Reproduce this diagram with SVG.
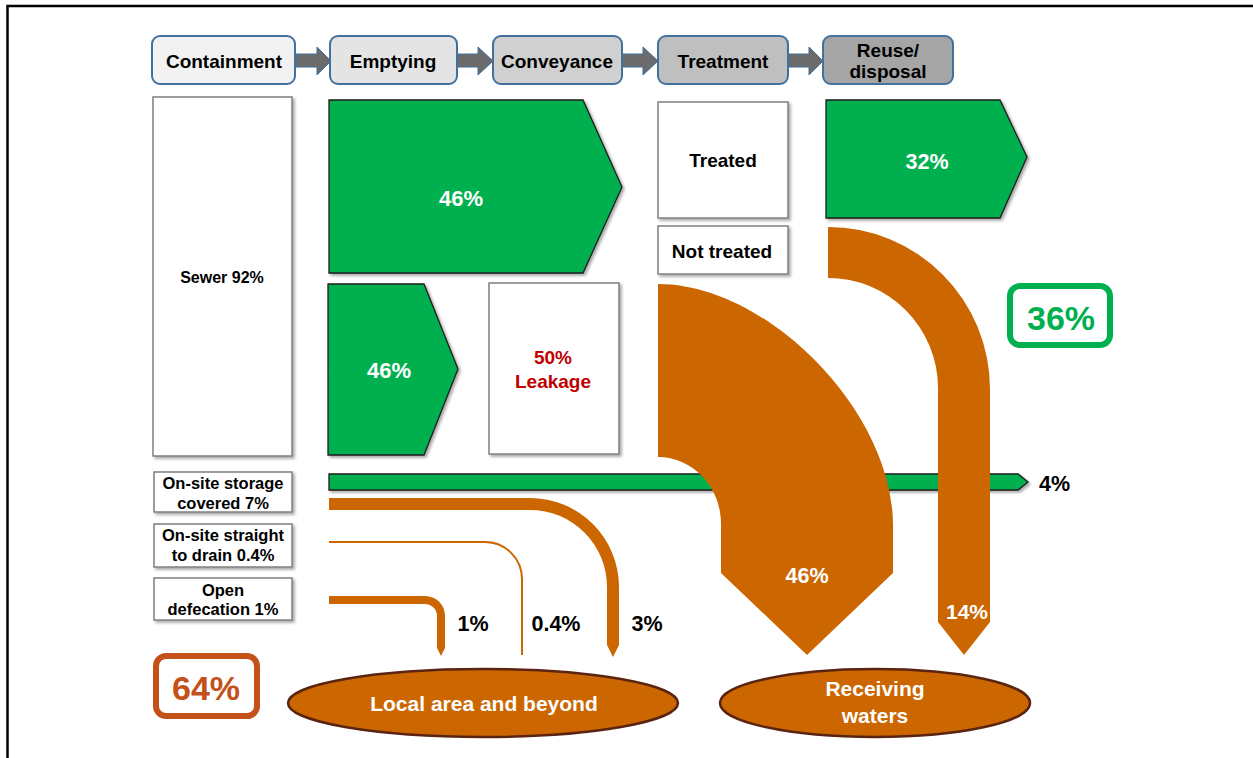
<svg xmlns="http://www.w3.org/2000/svg" width="1253" height="758" viewBox="0 0 1253 758">
<defs>
<style>
text{font-family:"Liberation Sans",Arial,sans-serif;font-weight:bold;text-anchor:middle}
.hdr{stroke:#41719C;stroke-width:2}
.ht{font-size:19px;fill:#000}
.harrow{fill:#6B6B6B;stroke:#41719C;stroke-width:1}
.wbox{fill:#fff;stroke:#7F7F7F;stroke-width:1.5}
.gr{fill:#00B050;stroke:#1E1E1E;stroke-width:1.3}
.or{fill:#CC6600}
.bt{fill:#000}
.wt{fill:#fff}
.ell{fill:#CC6600;stroke:#5A2410;stroke-width:2.5}
</style>
<filter id="sh" x="-10%" y="-10%" width="130%" height="130%">
<feDropShadow dx="2" dy="2" stdDeviation="1.5" flood-color="#000" flood-opacity="0.35"/>
</filter>
</defs>
<rect width="1253" height="758" fill="#fff"/>
<path d="M7.5,758 V6 H1253" fill="none" stroke="#000" stroke-width="2.5"/>

<g id="connectors">
<polygon class="harrow" points="296,54 317,54 317,47 331,61 317,75 317,67 296,67"/>
<polygon class="harrow" points="457,54 478,54 478,47 493,61 478,75 478,67 457,67"/>
<polygon class="harrow" points="622,54 643,54 643,47 658,61 643,75 643,67 622,67"/>
<polygon class="harrow" points="788,54 809,54 809,47 823,61 809,75 809,67 788,67"/>
<polygon class="gr" filter="url(#sh)" points="329,474 1018,474 1028,482 1018,490 329,490"/>
<path class="or" d="M658,284 C768,284 893,412 893,525 L893,573 L807,655 L721,573 L721,525 A63,67 0 0 0 658,457 Z"/>
<path class="or" d="M828,227 A162,162 0 0 1 990,389 L990,622 L964,655 L938,622 L938,388 A110,110 0 0 0 828,278 Z"/>
<path class="or" d="M329,498 L530,498 A89,89 0 0 1 619,587 L619,645 L613,657 L607,645 L607,587 A77,77 0 0 0 530,510 L329,510 Z"/>
<path d="M329,542 L485,542 A37,37 0 0 1 522,579 L522,655" fill="none" stroke="#CC6600" stroke-width="2"/>
<path class="or" d="M329,596 L425,596 A20,20 0 0 1 445,616 L445,648 L441,656 L437,648 L437,616 A12,12 0 0 0 425,604 L329,604 Z"/>
</g>

<g id="containment"><rect class="hdr" x="152" y="36" width="143" height="48" rx="8" fill="#F2F2F2"/><text class="ht" x="224" y="67.5">Containment</text></g>
<g id="emptying"><rect class="hdr" x="330" y="36" width="127" height="48" rx="8" fill="#E4E4E4"/><text class="ht" x="393" y="67.5">Emptying</text></g>
<g id="conveyance"><rect class="hdr" x="493" y="36" width="129" height="48" rx="8" fill="#D0D0D0"/><text class="ht" x="557" y="67.5">Conveyance</text></g>
<g id="treatment"><rect class="hdr" x="658" y="36" width="130" height="48" rx="8" fill="#BFBFBF"/><text class="ht" x="723" y="67.5">Treatment</text></g>
<g id="reuse"><rect class="hdr" x="823" y="36" width="130" height="48" rx="8" fill="#A5A5A5"/><text class="ht" x="888" y="56.5">Reuse/</text><text class="ht" x="888" y="77.5">disposal</text></g>

<g id="sewer"><rect class="wbox" filter="url(#sh)" x="153" y="97" width="139" height="359"/><text class="bt" x="222" y="283" font-size="16">Sewer 92%</text></g>
<g id="emptied1"><polygon class="gr" filter="url(#sh)" points="329,100 583,100 622,187 583,273 329,273"/><text class="wt" x="461" y="205.5" font-size="22">46%</text></g>
<g id="emptied2"><polygon class="gr" filter="url(#sh)" points="328,284 424,284 458,369 424,455 328,455"/><text class="wt" x="389" y="378" font-size="22">46%</text></g>
<g id="leakage"><rect class="wbox" filter="url(#sh)" x="489" y="283" width="130" height="171"/><text x="553" y="364" font-size="19" fill="#C00000">50%</text><text x="553" y="388" font-size="19" fill="#C00000">Leakage</text></g>
<g id="treated"><rect class="wbox" filter="url(#sh)" x="658" y="102" width="130" height="116"/><text class="bt" x="723" y="166.5" font-size="19">Treated</text></g>
<g id="not-treated"><rect class="wbox" filter="url(#sh)" x="658" y="226" width="130" height="48"/><text class="bt" x="722" y="257.5" font-size="19">Not treated</text></g>
<g id="reused"><polygon class="gr" filter="url(#sh)" points="826,100 1000,100 1027,157 1000,218 826,218"/><text class="wt" x="927" y="168.5" font-size="21.5">32%</text></g>
<g id="total-safe"><rect x="1010" y="286" width="100" height="59" rx="10" fill="#fff" stroke="#00B050" stroke-width="6"/><text x="1061" y="330" font-size="34" fill="#00B050">36%</text></g>

<g id="onsite-storage"><rect class="wbox" filter="url(#sh)" x="154" y="472" width="138" height="40"/><text class="bt" x="223" y="489" font-size="16.5">On-site storage</text><text class="bt" x="223" y="509" font-size="16.5">covered 7%</text></g>
<g id="onsite-drain"><rect class="wbox" filter="url(#sh)" x="154" y="524" width="138" height="43"/><text class="bt" x="223" y="541" font-size="16.5">On-site straight</text><text class="bt" x="223" y="561" font-size="16.5">to drain 0.4%</text></g>
<g id="open-defecation"><rect class="wbox" filter="url(#sh)" x="154" y="578" width="138" height="42"/><text class="bt" x="223" y="596" font-size="16.5">Open</text><text class="bt" x="223" y="615" font-size="16.5">defecation 1%</text></g>

<g id="labels">
<text class="bt" x="1039" y="490.5" font-size="21.5" style="text-anchor:start">4%</text>
<text class="wt" x="807" y="582.5" font-size="21.5">46%</text>
<text class="wt" x="967" y="618.5" font-size="21">14%</text>
<text class="bt" x="473" y="630.5" font-size="21.5">1%</text>
<text class="bt" x="556" y="630.5" font-size="21.5">0.4%</text>
<text class="bt" x="647" y="630.5" font-size="21.5">3%</text>
</g>

<g id="total-unsafe"><rect x="156" y="656" width="101" height="60" rx="10" fill="#fff" stroke="#C4501A" stroke-width="6"/><text x="206" y="700" font-size="34" fill="#C4501A">64%</text></g>
<g id="local-area"><ellipse class="ell" cx="483" cy="703" rx="195" ry="34"/><text class="wt" x="484" y="711" font-size="21">Local area and beyond</text></g>
<g id="receiving-waters"><ellipse class="ell" cx="875" cy="703" rx="155" ry="34"/><text class="wt" x="875" y="696" font-size="21">Receiving</text><text class="wt" x="875" y="723" font-size="21">waters</text></g>
</svg>
